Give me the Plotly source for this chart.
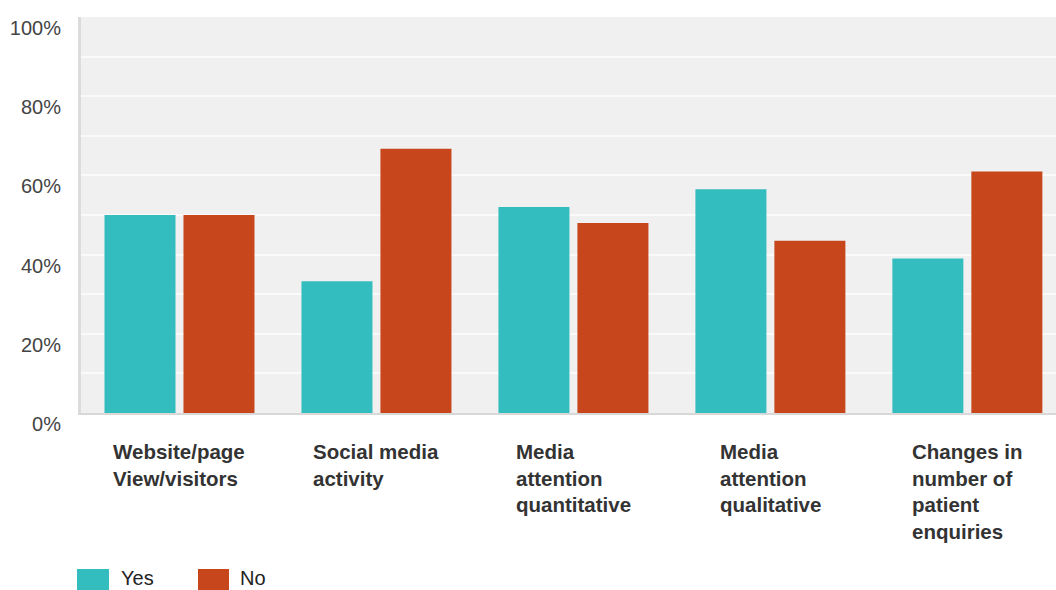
import plotly.graph_objects as go

categories = ["Website/page<br>View/visitors", "Social media<br>activity",
              "Media<br>attention<br>quantitative", "Media<br>attention<br>qualitative",
              "Changes in<br>number of<br>patient<br>enquiries"]
series_names = ["Yes", "No"]
yes_vals = [50, 33.3, 52, 56.5, 39]
no_vals = [50, 66.7, 48, 43.5, 61]
y_ticks = [0, 20, 40, 60, 80, 100]
y_tick_labels = ["0%", "20%", "40%", "60%", "80%", "100%"]
colors = ["#34BDBF", "#C8461B"]

W, H = 1056, 590
L, T, B = 81, 17, 177
plot_w = W - L
plot_h = H - T - B

fig = go.Figure()
xs = list(range(len(categories)))
for name, vals, c in zip(series_names, [yes_vals, no_vals], colors):
    fig.add_trace(go.Bar(x=xs, y=vals, name=name, marker=dict(color=c, line=dict(width=0)),
                         showlegend=False))

# category labels (left-aligned text blocks centred on each category)
for i, cat in enumerate(categories):
    fig.add_annotation(x=i, xref="x", y=(413 - 438) / plot_h, yref="paper",
                       yanchor="top", xanchor="center", align="left", showarrow=False,
                       text=cat, font=dict(family="Liberation Sans, Arial", size=20.5,
                                           color="#333333", weight="bold"))

# legend
leg = [(77, 109, 119), (198, 229, 238)]
for (x0, x1, tx), name, c in zip(leg, series_names, colors):
    fig.add_shape(type="rect", xref="paper", yref="paper",
                  x0=(x0 - L) / plot_w, x1=(x1 - L) / plot_w,
                  y0=(413 - 569) / plot_h, y1=(413 - 595) / plot_h,
                  fillcolor=c, line=dict(width=0))
    fig.add_annotation(x=(tx - L) / plot_w, xref="paper", y=(413 - 591) / plot_h, yref="paper",
                       xanchor="left", yanchor="bottom", showarrow=False, text=name,
                       font=dict(family="Liberation Sans, Arial", size=20, color="#222222"))

fig.update_layout(
    width=W, height=H,
    margin=dict(l=L, r=0, t=T, b=B, pad=0),
    paper_bgcolor="white", plot_bgcolor="#F0F0F0",
    barmode="group", bargap=0.198, bargroupgap=0.101,
    font=dict(family="Liberation Sans, Arial", size=20, color="#444444"),
    xaxis=dict(range=[-0.5, 4.45], showticklabels=False, showgrid=False, zeroline=False,
               showline=True, linecolor="#D8D8D8", linewidth=2, fixedrange=True),
    yaxis=dict(range=[0, 100], tickvals=y_ticks, ticktext=y_tick_labels,
               showgrid=True, gridcolor="#FAFAFA", gridwidth=2, zeroline=False,
               showline=True, linecolor="#DCDCDC", linewidth=3,
               ticks="", ticklabelstandoff=13, ticklabelshift=11,
               tickfont=dict(size=20, color="#444444"),
               minor=dict(dtick=10, showgrid=True, gridcolor="#FAFAFA", gridwidth=2)),
)

fig.write_html("out.html")
